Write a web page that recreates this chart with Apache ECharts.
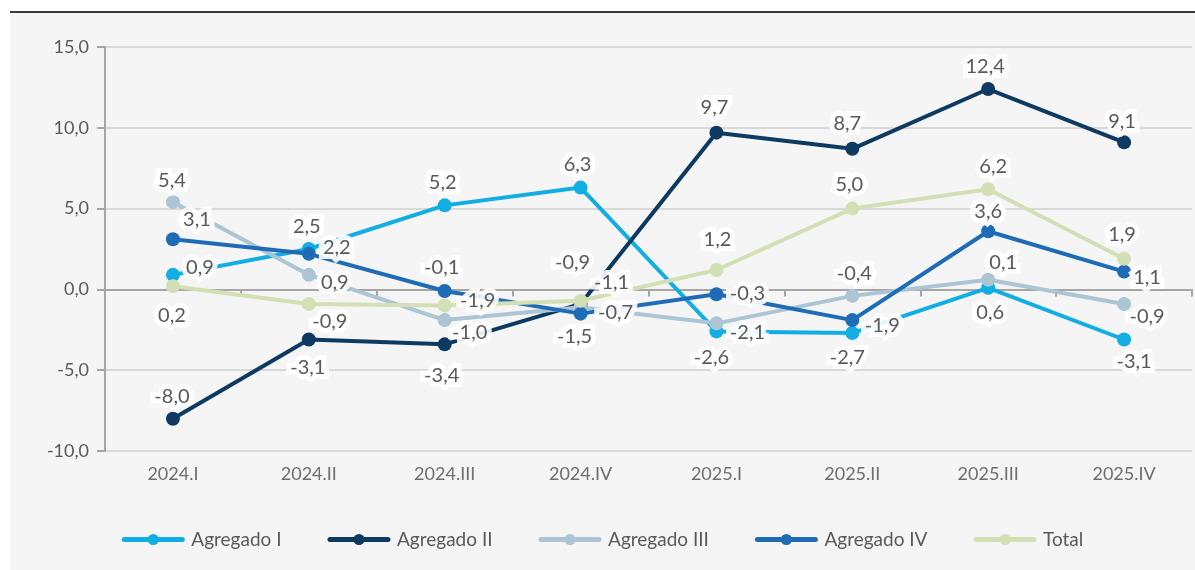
<!DOCTYPE html>
<html>
<head>
<meta charset="utf-8">
<script src="https://cdn.jsdelivr.net/npm/echarts@6/dist/echarts.min.js"></script>
<style>
  html, body { margin: 0; padding: 0; background: #fff; }
  #rule { position: absolute; left: 10px; top: 11px; width: 1185px; height: 2px; background: #3a3a3a; }
  #chart { position: absolute; left: 10px; top: 13px; width: 1185px; height: 557px; background: #f5f5f5; }
</style>
</head>
<body>
<div id="rule"></div>
<div id="chart"></div>
<script>
var quarters = ['2024.I', '2024.II', '2024.III', '2024.IV', '2025.I', '2025.II', '2025.III', '2025.IV']
var yTicks = [-10, -5, 0, 5, 10, 15]

var agregadoI = [0.9, 2.5, 5.2, 6.3, -2.6, -2.7, 0.1, -3.1]
var agregadoII = [-8.0, -3.1, -3.4, -0.9, 9.7, 8.7, 12.4, 9.1]
var agregadoIII = [5.4, 0.9, -1.9, -1.1, -2.1, -0.4, 0.6, -0.9]
var agregadoIV = [3.1, 2.2, -0.1, -1.5, -0.3, -1.9, 3.6, 1.1]
var total = [0.2, -0.9, -1.0, -0.7, 1.2, 5.0, 6.2, 1.9]

// where each data label sits, relative to its point (px)
var offI = [[27, -7], [-2, -22], [-2, -23], [-3, -23], [-5, 26], [-5, 25], [15, -25], [10, 22]]
var offII = [[-1, -22], [-1, 28], [-3, 31], [-8, -41], [-2, -25], [-5, -25], [-3, -22], [-2, -21]]
var offIII = [[-1, -22], [26, 8], [33, -20], [31, -25], [31, 9], [2, -22], [2, 33], [23, 13]]
var offIV = [[24, -20], [28, -6], [-3, -23], [-6, 23], [31, -1], [30, 5], [0, -20], [23, 6]]
var offTotal = [[-1, 29], [21, 18], [25, 27], [35, 12], [1, -30], [-3, -24], [5, -23], [-2, -24]]

var font = 'Lato, "Noto Sans", sans-serif'

function fmt (v) {
    return v.toFixed(1).replace('.', ',')
}

function makeSeries (name, values, offsets, color) {
    return {
        name: name,
        type: 'line',
        symbol: 'circle',
        symbolSize: 14,
        color: color,
        lineStyle: { width: 4, color: color },
        itemStyle: { color: color },
        emphasis: { disabled: true },
        data: values.map(function (v, i) {
            return {
                value: v,
                label: { offset: offsets[i] }
            }
        }),
        label: {
            show: true,
            position: 'inside',
            fontFamily: font,
            fontSize: 20,
            color: '#595959',
            textBorderColor: 'rgba(255,255,255,0.9)',
            textBorderWidth: 10,
            formatter: function (p) { return fmt(p.value) }
        }
    }
}

var myChart = echarts.init(document.getElementById('chart'))
var option = {
    animation: false,
    textStyle: { fontFamily: font },
    grid: {
        left: 95,
        right: 3,
        top: 34,
        bottom: 119
    },
    legend: {
        bottom: 16,
        left: 'center',
        itemWidth: 58,
        itemHeight: 14,
        itemGap: 46,
        lineStyle: { width: 5, cap: 'round' },
        textStyle: { fontFamily: font, fontSize: 19, color: '#595959', padding: [0, 0, 0, 4] },
        data: ['Agregado I', 'Agregado II', 'Agregado III', 'Agregado IV', 'Total']
    },
    xAxis: {
        type: 'category',
        boundaryGap: true,
        data: quarters,
        axisLine: { lineStyle: { color: '#a6a6a6', width: 2 } },
        axisTick: { show: true, length: 7, lineStyle: { color: '#a6a6a6', width: 2 } },
        axisLabel: { fontFamily: font, fontSize: 18, color: '#6e6e6e', margin: 14 }
    },
    yAxis: {
        type: 'value',
        min: yTicks[0],
        max: yTicks[yTicks.length - 1],
        interval: 5,
        axisLine: { show: true, lineStyle: { color: '#a6a6a6', width: 2 } },
        axisTick: { show: true, length: 8, lineStyle: { color: '#a6a6a6', width: 2 } },
        axisLabel: {
            fontFamily: font,
            fontSize: 18,
            color: '#595959',
            margin: 16,
            formatter: function (v) { return fmt(v) }
        },
        splitLine: {
            lineStyle: {
                color: ['#d9d9d9', '#d9d9d9', '#a0a0a0', '#d9d9d9', '#d9d9d9', '#d9d9d9'],
                width: 2
            }
        }
    },
    series: [
        makeSeries('Agregado I', agregadoI, offI, '#12ade2'),
        makeSeries('Agregado II', agregadoII, offII, '#0e3a62'),
        makeSeries('Agregado III', agregadoIII, offIII, '#abc5d4'),
        makeSeries('Agregado IV', agregadoIV, offIV, '#1f6cb6'),
        makeSeries('Total', total, offTotal, '#d3dfb4')
    ]
}
myChart.setOption(option)
</script>
</body>
</html>
